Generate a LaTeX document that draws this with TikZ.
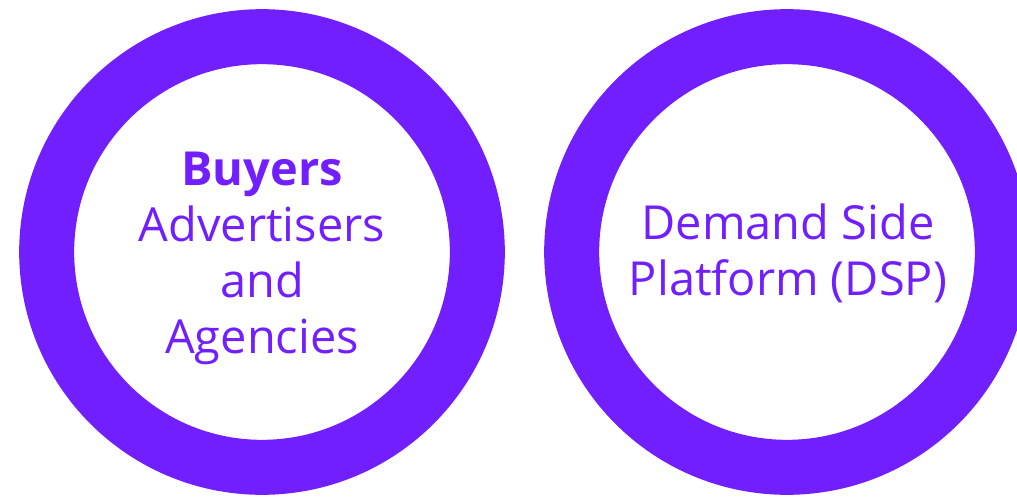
\documentclass[tikz,border=0pt]{standalone}
\usepackage{fontspec}
\setmainfont{Open Sans}
\definecolor{dspviolet}{RGB}{114,31,255}
\tikzset{
  ring/.style={circle, draw=dspviolet, line width=41.25pt, minimum size=323pt, inner sep=0pt},
  ringtext/.style={text=dspviolet, align=center, font=\fontsize{35.2}{42}\selectfont}
}
\begin{document}
\begin{tikzpicture}[x=0.75pt, y=0.75pt]
\useasboundingbox (0,0) rectangle (1017,497);
\begin{scope}
\clip (0,0) rectangle (1017,497);
\node[ring] (buyers) at (262,245) {};
\node[ring] (dsp) at (787,245) {};
\end{scope}
\node[ringtext] (buyerstext) at (262,239) {\textbf{Buyers}\\Advertisers\\and\\Agencies};
\node[ringtext] (dsptext) at (788,244) {Demand Side\\Platform (DSP)};
\end{tikzpicture}
\end{document}
